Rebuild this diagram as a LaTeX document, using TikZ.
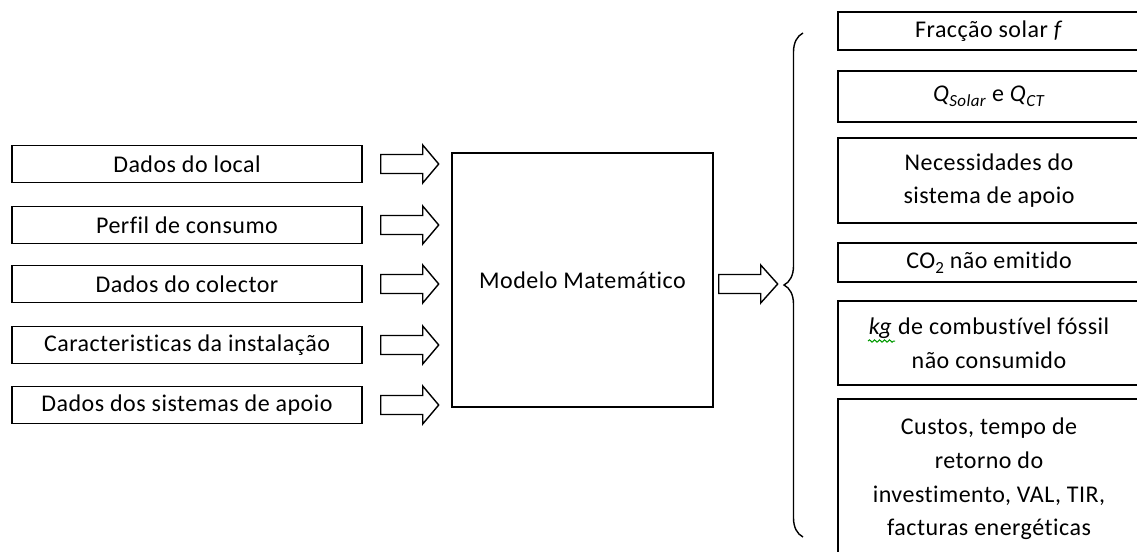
\documentclass[tikz,border=0pt]{standalone}
\usepackage{fontspec}
\setmainfont{Carlito}[LetterSpace=2,Ligatures=NoCommon]
\usetikzlibrary{calc,decorations.pathreplacing,decorations.pathmorphing}
\begin{document}
\begin{tikzpicture}[x=0.5pt,y=-0.5pt,
  font=\fontsize{12}{16.8}\selectfont,
  box/.style={draw,line width=0.7pt,inner sep=0pt,align=center},
  inbox/.style={box,minimum width=175pt,minimum height=18.5pt},
  outbox/.style={box,minimum width=151pt},
  blk/.style={draw,line width=0.7pt,fill=white,line join=miter}]
  \useasboundingbox (0,0) rectangle (1137,552);
  \clip (0,0) rectangle (1137,552);
  \node[inbox] (L1) at (187,164) {Dados do local};
  \node[inbox] (L2) at (187,225) {Perfil de consumo};
  \node[inbox] (L3) at (187,284) {Dados do colector};
  \node[inbox] (L4) at (187,345) {Caracteristicas da instalação};
  \node[inbox] (L5) at (187,405) {Dados dos sistemas de apoio};
  \node[box,minimum width=130.5pt,minimum height=127pt] (M) at (582.5,280) {Modelo Matemático};
  \node[outbox,minimum height=19pt] (R1) at (989,31) {Fracção solar \textit{f}};
  \node[outbox,minimum height=25.5pt] (R2) at (989,96.5)
    {\textit{Q}\raisebox{-0.4ex}{\fontsize{8.5}{8.5}\selectfont\textit{Solar}} e \textit{Q}\raisebox{-0.4ex}{\fontsize{8.5}{8.5}\selectfont\textit{CT}}};
  \node[outbox,minimum height=42.5pt] (R3) at (989,180.5) {Necessidades do\\sistema de apoio};
  \node[outbox,minimum height=19.5pt] (R4) at (989,262.5) {CO\raisebox{-0.4ex}{\fontsize{8.5}{8.5}\selectfont 2} não emitido};
  \node[outbox,minimum height=42pt] (R5) at (989,343) {\textit{kg} de combustível fóssil\\não consumido};
  \node[outbox,minimum height=80pt] (R6) at (989,479) {Custos, tempo de\\retorno do\\investimento, VAL, TIR,\\facturas energéticas};
  \foreach \i in {1,...,5}
    \draw[blk] ($(L\i.east)+(18,-9.5)$) -- ++(42,0) -- ++(0,-9.5) -- ++(16,19) -- ++(-16,19) -- ++(0,-9.5) -- ++(-42,0) -- cycle;
  \draw[blk] ($(M.east)+(5,-5.5)$) -- ++(42,0) -- ++(0,-9.5) -- ++(17,19) -- ++(-17,19) -- ++(0,-9.5) -- ++(-42,0) -- cycle;
  \draw[line width=0.7pt,decorate,decoration={brace,amplitude=9.5pt}] (803,537) -- (803,33);
  \draw[green!60!black,line width=0.5pt,decorate,decoration={snake,segment length=2.5pt,amplitude=0.6pt}] (868,341) -- (895,341);
\end{tikzpicture}
\end{document}
